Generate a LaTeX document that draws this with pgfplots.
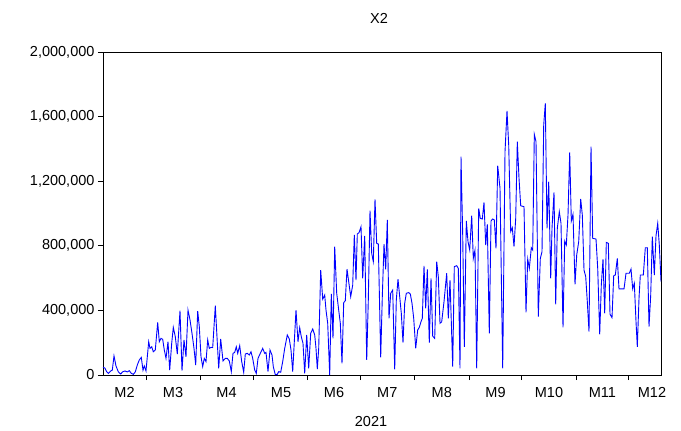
\documentclass[border=0pt]{standalone}
\usepackage{fontspec}
\setmainfont{Liberation Sans}
\usepackage{pgfplots}
\pgfplotsset{compat=1.18}
\begin{document}
\begin{tikzpicture}[x=1bp,y=1bp]
\path[use as bounding box] (-103,-55) rectangle (578,375);
\begin{axis}[
  at={(0,0)}, anchor=south west,
  scale only axis, width=558bp, height=323bp,
  xmin=103, xmax=661, ymin=0, ymax=2000000,
  axis line style={line width=0.8bp, black},
  tick align=outside, tick pos=left,
  major tick length=5bp,
  tick style={black, line width=0.8bp},
  xtick={146,200,253,307.7,360.3,414.3,469.3,521.7,576,628.7},
  xticklabels={},
  extra x ticks={124.5,173,226.5,281,334,387.3,441.8,495.5,549,602.4,652},
  extra x tick labels={M2,M3,M4,M5,M6,M7,M8,M9,M10,M11,M12},
  extra x tick style={major tick length=0pt},
  xticklabel style={yshift=-9bp},
  ytick={0,400000,800000,1200000,1600000,2000000},
  scaled y ticks=false,
  /pgf/number format/assume math mode=true,
  yticklabel style={/pgf/number format/.cd, fixed, 1000 sep={,}},
  ticklabel style={font=\fontsize{14.5bp}{17bp}\selectfont},
  clip=true,
]
\addplot[blue, line width=0.9bp, mark=none] coordinates {
(103,48000)(105,42000)(106.7,20000)(108.3,10000)(110.7,25000)(112.3,30000)(114,118000)(116,56000)
(118.3,20000)(120.7,6000)(122.7,20000)(125,25000)(127.3,19000)(129.3,27000)(131.3,10000)(133.3,4000)
(135.3,19000)(137.3,62000)(139.3,93000)(141.3,109000)(143,30000)(144.3,56000)(146,25000)(148.7,206000)
(150,165000)(151.7,175000)(153.3,144000)(155.3,155000)(157.7,326000)(159.3,206000)(161,227000)(162.7,221000)
(164.3,155000)(166,103000)(168,206000)(169.7,30000)(171.7,196000)(173.3,295000)(175.3,237000)(177.3,130000)
(180,398000)(182,27000)(184,217000)(186,113000)(188,402000)(190,341000)(192,258000)(194,165000)
(195.7,62000)(197.7,396000)(199.3,299000)(201,113000)(202.7,52000)(204.3,103000)(206,83000)(207.7,217000)
(209.3,165000)(211,171000)(212.7,170000)(215.3,429000)(218.7,41000)(220.7,223000)(223,87000)(225.3,103000)
(227.3,103000)(229.3,87000)(231.3,21000)(233,134000)(234.7,140000)(236.3,175000)(237.7,134000)(239.7,182000)
(241.7,83000)(243.7,17000)(245.3,130000)(247.3,134000)(249.3,124000)(251,144000)(252.7,103000)(254.7,31000)
(256.3,10000)(258,103000)(260.3,134000)(262.7,165000)(264.7,134000)(266,140000)(268,21000)(270,155000)
(272,124000)(273.3,52000)(275.3,2000)(277.3,4000)(278.7,21000)(280.7,17000)(282.7,83000)(284.7,165000)
(287.3,248000)(289.3,223000)(291,155000)(292.7,21000)(296,402000)(298,206000)(299.7,293000)(301.3,237000)
(303,196000)(304.7,10000)(306.7,248000)(308.7,41000)(310.7,258000)(312.7,285000)(314.7,248000)(316,165000)
(317.3,37000)(318.7,165000)(320.7,650000)(322.7,470000)(324.7,495000)(326,402000)(327.7,320000)(329.7,0)
(331.3,502000)(333,227000)(334.7,795000)(336.7,506000)(338.7,402000)(340.3,320000)(342,72000)(343.7,448000)
(345.3,460000)(347,656000)(348.7,578000)(350.7,485000)(352.7,557000)(354.3,867000)(356,588000)(357.3,873000)
(359,881000)(361,918000)(362.7,598000)(364.7,861000)(366.7,93000)(368.3,464000)(370,1017000)(371.7,753000)
(373.3,702000)(375,1088000)(376.7,815000)(378.3,811000)(380.7,109000)(382.3,485000)(384,811000)(385.7,654000)
(387.3,960000)(389,351000)(390.7,506000)(392.7,526000)(394.7,35000)(396.3,464000)(398,593000)(399.7,485000)
(401.3,382000)(403,200000)(404.7,444000)(406.3,506000)(408.7,510000)(410.3,502000)(412,444000)(413.7,351000)
(415.7,165000)(417.7,279000)(419.3,295000)(421,330000)(422.3,351000)(424,675000)(425.7,413000)(427.3,654000)
(429.3,200000)(431,598000)(432.7,240000)(434.7,227000)(436.7,702000)(438.3,609000)(440,320000)(441.7,330000)
(444,454000)(446.7,630000)(448.3,351000)(450,588000)(452.7,52000)(454.3,671000)(456.7,677000)(458.3,660000)
(460,41000)(461,1352000)(462.7,867000)(464.3,175000)(466.3,954000)(468,826000)(469.7,774000)(471.7,987000)
(473.3,722000)(475,774000)(476.7,41000)(478.7,1032000)(480.3,970000)(482.3,966000)(484,1069000)(485.7,805000)
(487.3,933000)(489.3,258000)(491,954000)(492.7,966000)(494.3,960000)(496,784000)(497.7,1296000)(500,1156000)
(502.7,41000)(505,1383000)(507,1635000)(508.7,1424000)(510.7,888000)(512.3,912000)(514,795000)(515.7,970000)
(517.3,1445000)(519,1218000)(520.7,1048000)(524,1042000)(526,388000)(527.7,718000)(529.3,660000)(531.3,788000)
(532.7,774000)(534.3,1490000)(536,1445000)(538.3,361000)(540.3,722000)(542,764000)(543.7,1548000)(545.3,1682000)
(547,908000)(548.7,1197000)(550.7,598000)(552,908000)(554,1131000)(555.7,438000)(557.3,908000)(559.3,1011000)
(561,939000)(563,295000)(564.7,830000)(566.3,805000)(568,991000)(569.7,1379000)(571.3,954000)(573,995000)
(575,561000)(576.7,743000)(578.7,826000)(580.7,1090000)(582.3,991000)(584,650000)(585.7,609000)(587.3,454000)
(589,268000)(591,1414000)(592.7,846000)(596,842000)(597.7,660000)(599.7,252000)(601.3,557000)(603,718000)
(604.7,382000)(606.3,821000)(608.3,815000)(610,376000)(612,355000)(613.7,615000)(615.3,619000)(617.3,722000)
(619,533000)(624,533000)(626,630000)(629.3,630000)(631,656000)(632.7,533000)(634.3,568000)(636,330000)
(637.3,175000)(639,475000)(640.3,619000)(643.3,619000)(645.3,788000)(647.3,788000)(649,299000)(650.7,495000)
(652.3,856000)(654.3,619000)(656,862000)(657.7,939000)(659.3,805000)(661,578000)
};
\end{axis}
\node[font=\fontsize{14.5bp}{17bp}\selectfont] at (276,357) {X2};
\node[font=\fontsize{14.5bp}{17bp}\selectfont] at (268,-47) {2021};
\end{tikzpicture}
\end{document}
